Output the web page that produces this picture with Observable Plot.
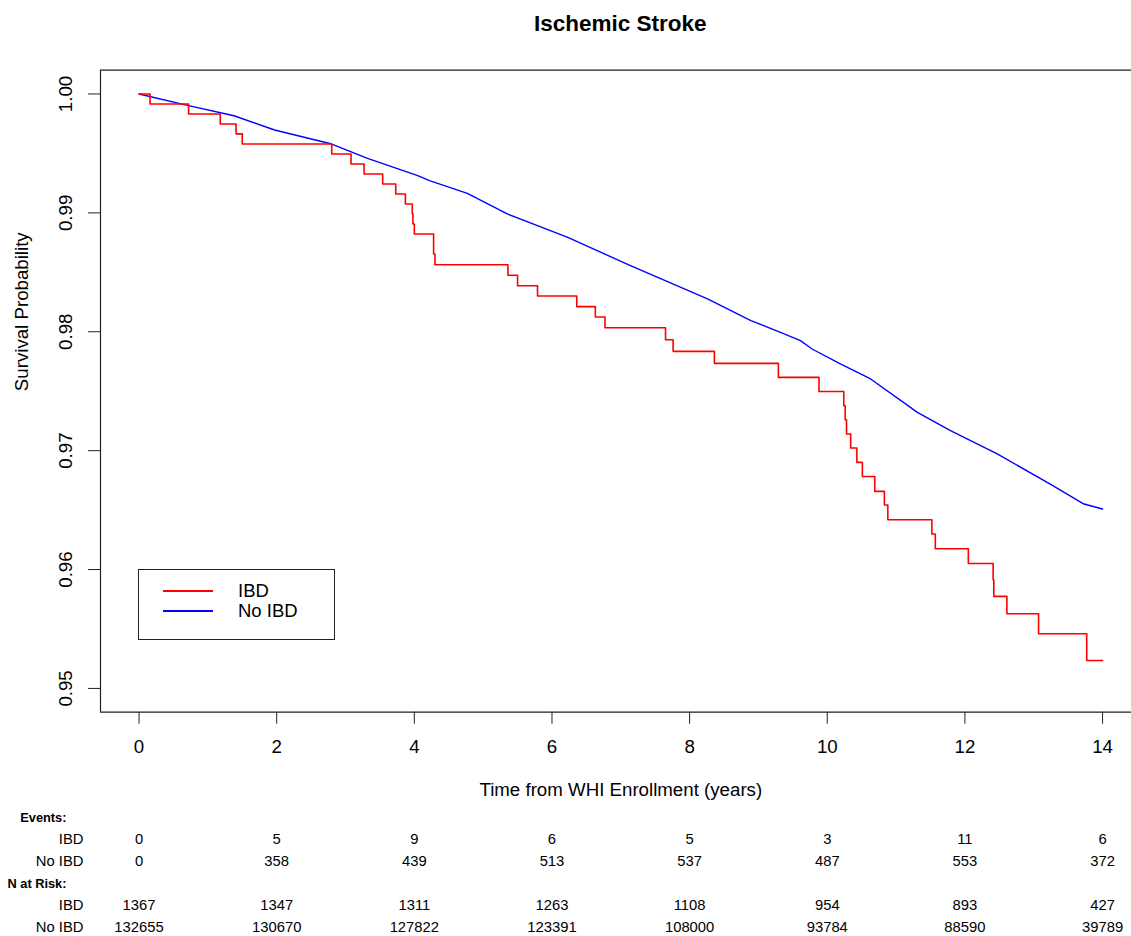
<!DOCTYPE html>
<html>
<head>
<meta charset="utf-8">
<script src="https://cdn.jsdelivr.net/npm/d3@7"></script>
<script src="https://cdn.jsdelivr.net/npm/@observablehq/plot@0.6"></script>
<style>
html, body { margin: 0; padding: 0; background: #fff; overflow: hidden; }
#wrap { position: relative; width: 1131px; height: 936px; font-family: "Liberation Sans", Arial, Helvetica, sans-serif; color: #000; }
#title { position: absolute; left: 100px; width: 1040.6px; top: 0; height: 48px; line-height: 48px; text-align: center; font-weight: bold; font-size: 22.5px; }
#main { position: absolute; left: 0; top: 40px; }
#table { position: absolute; left: 0; top: 800px; }
#legend { position: absolute; left: 138px; top: 569px; width: 197px; height: 71px; border: 1.2px solid #222; box-sizing: border-box; background: #fff; font-size: 18.5px; }
#legend .sw { position: absolute; left: 24px; width: 50px; height: 0; border-top: 2px solid; }
#legend .lb { position: absolute; left: 99px; height: 20px; line-height: 20px; white-space: nowrap; }
</style>
</head>
<body>
<div id="wrap">
  <div id="title"></div>
  <div id="main"></div>
  <div id="legend"></div>
  <div id="table"></div>
</div>
<script>
// ---------------- data ----------------
const chartTitle = "Ischemic Stroke";
const xLabel = "Time from WHI Enrollment (years)";
const yLabel = "Survival Probability";
const groups = ["IBD", "No IBD"];
const groupColors = ["#FF0000", "#0000FF"];

// IBD Kaplan-Meier step curve (time in years, survival after each drop)
const ibdTime = [0, 0.16, 0.72, 1.18, 1.41, 1.50, 2.80, 3.08, 3.27, 3.54, 3.73, 3.87, 3.97, 3.98, 4.00,
  4.28, 4.30, 5.36, 5.50, 5.79, 6.36, 6.63, 6.77, 7.65, 7.76, 8.36, 9.29, 9.88,
  10.24, 10.26, 10.28, 10.34, 10.43, 10.51, 10.69, 10.83, 10.88, 11.52, 11.57,
  12.05, 12.41, 12.42, 12.61, 13.07, 13.77, 14.00];
const ibdSurv = [1.0, 0.99916, 0.99832, 0.99748, 0.99664, 0.99579, 0.99495, 0.99411, 0.99327, 0.99243, 0.99159, 0.99075, 0.98991, 0.98906, 0.98822,
  0.98654, 0.98564, 0.98475, 0.98387, 0.98301, 0.98211, 0.98124, 0.98034, 0.97933, 0.97835, 0.97734, 0.97616, 0.97498,
  0.97378, 0.97260, 0.97140, 0.97022, 0.96901, 0.96783, 0.96657, 0.96543, 0.96419, 0.96299, 0.96175,
  0.96051, 0.95914, 0.95774, 0.95628, 0.95460, 0.95235, 0.95235];

// No IBD curve (read points)
const noIbdTime = [0, 0.72, 1.38, 1.97, 2.80, 3.32, 4.05, 4.22, 4.77, 5.35, 6.23, 7.14, 8.26, 8.89, 9.32, 9.61, 9.78,
  10.19, 10.63, 11.31, 11.79, 12.47, 13.24, 13.73, 14.00];
const noIbdSurv = [1.0, 0.99902, 0.99817, 0.99697, 0.99579, 0.99458, 0.99313, 0.99271, 0.99164, 0.98991, 0.98794, 0.98556, 0.98276, 0.98093, 0.97995, 0.97925, 0.97855,
  0.97729, 0.97603, 0.97322, 0.97168, 0.96972, 0.96719, 0.96551, 0.96509];

// axes
const xTicks = [0, 2, 4, 6, 8, 10, 12, 14];
const yTicks = [0.95, 0.96, 0.97, 0.98, 0.99, 1.00];

// risk table
const tableTimes = [0, 2, 4, 6, 8, 10, 12, 14];
const eventsIBD = [0, 5, 9, 6, 5, 3, 11, 6];
const eventsNoIBD = [0, 358, 439, 513, 537, 487, 553, 372];
const riskIBD = [1367, 1347, 1311, 1263, 1108, 954, 893, 427];
const riskNoIBD = [132655, 130670, 127822, 123391, 108000, 93784, 88590, 39789];
const headerEvents = "Events:";
const headerRisk = "N at Risk:";

// ---------------- layout ----------------
const FONT = "Liberation Sans, Arial, Helvetica, sans-serif";
const xDomain = [-0.56, 14.56];
const xRange = [100, 1140.6];
const yDomain = [0.948, 1.002];
const axisFont = 18.7;

document.getElementById("title").textContent = chartTitle;

const ibd = ibdTime.map((t, i) => ({t, s: ibdSurv[i]}));
const noIbd = noIbdTime.map((t, i) => ({t, s: noIbdSurv[i]}));

const main = Plot.plot({
  width: 1131,
  height: 765,
  marginTop: 29.7,
  marginBottom: 93.3,
  marginLeft: 100,
  marginRight: 0,
  style: {fontFamily: FONT, fontSize: axisFont + "px", background: "#fff"},
  x: {domain: xDomain, range: xRange},
  y: {domain: yDomain},
  marks: [
    Plot.ruleY(yDomain, {stroke: "#222", strokeWidth: 1.2}),
    Plot.ruleX([xDomain[0]], {stroke: "#222", strokeWidth: 1.2}),
    Plot.axisX({ticks: xTicks, tickSize: 12, tickPadding: 16, fontSize: axisFont, label: null, tickFormat: d => String(d), stroke: "#222"}),
    Plot.axisY({ticks: yTicks, tickSize: 12, tickFormat: () => "", label: null, stroke: "#222"}),
    Plot.text(yTicks, {y: d => d, text: d => d.toFixed(2), frameAnchor: "left", dx: -34.5, rotate: -90, fontSize: axisFont, textAnchor: "middle"}),
    Plot.text([yLabel], {text: d => d, frameAnchor: "left", dx: -78, rotate: -90, fontSize: axisFont}),
    Plot.text([xLabel], {text: d => d, frameAnchor: "bottom", dy: 84, dx: 4.8, fontSize: axisFont}),
    Plot.line(noIbd, {x: "t", y: "s", stroke: groupColors[1], strokeWidth: 1.4}),
    Plot.line(ibd, {x: "t", y: "s", curve: "step-after", stroke: groupColors[0], strokeWidth: 1.6})
  ]
});
document.getElementById("main").appendChild(main);

// legend
const lg = document.getElementById("legend");
groups.forEach((g, i) => {
  const sw = document.createElement("div");
  sw.className = "sw";
  sw.style.top = (20 + i * 20) + "px";
  sw.style.borderColor = groupColors[i];
  lg.appendChild(sw);
  const lb = document.createElement("div");
  lb.className = "lb";
  lb.style.top = (11 + i * 20) + "px";
  lb.textContent = g;
  lg.appendChild(lb);
});

// risk table
const rowKeys = ["evHead", "evIBD", "evNo", "nHead", "nIBD", "nNo"];
const headers = [{row: "evHead", label: headerEvents}, {row: "nHead", label: headerRisk}];
const rowLabels = [
  {row: "evIBD", label: groups[0]}, {row: "evNo", label: groups[1]},
  {row: "nIBD", label: groups[0]}, {row: "nNo", label: groups[1]}
];
const cells = [];
tableTimes.forEach((t, i) => {
  cells.push({t, row: "evIBD", v: eventsIBD[i]});
  cells.push({t, row: "evNo", v: eventsNoIBD[i]});
  cells.push({t, row: "nIBD", v: riskIBD[i]});
  cells.push({t, row: "nNo", v: riskNoIBD[i]});
});
const tableFont = 14.8;
const table = Plot.plot({
  width: 1131,
  height: 136,
  marginTop: 0, marginBottom: 0, marginLeft: 0, marginRight: 0,
  style: {fontFamily: FONT, fontSize: tableFont + "px", background: "#fff"},
  x: {domain: xDomain, range: xRange, axis: null},
  y: {type: "point", domain: rowKeys, range: [15, 129], padding: 0, axis: null},
  marks: [
    Plot.text(headers, {y: "row", text: "label", frameAnchor: "left", dx: 66, textAnchor: "end", fontWeight: "bold", fontSize: 12.8}),
    Plot.text(rowLabels, {y: "row", text: "label", frameAnchor: "left", dx: 83, textAnchor: "end", fontSize: tableFont}),
    Plot.text(cells, {x: "t", y: "row", text: d => String(d.v), fontSize: tableFont})
  ]
});
document.getElementById("table").appendChild(table);
</script>
</body>
</html>
